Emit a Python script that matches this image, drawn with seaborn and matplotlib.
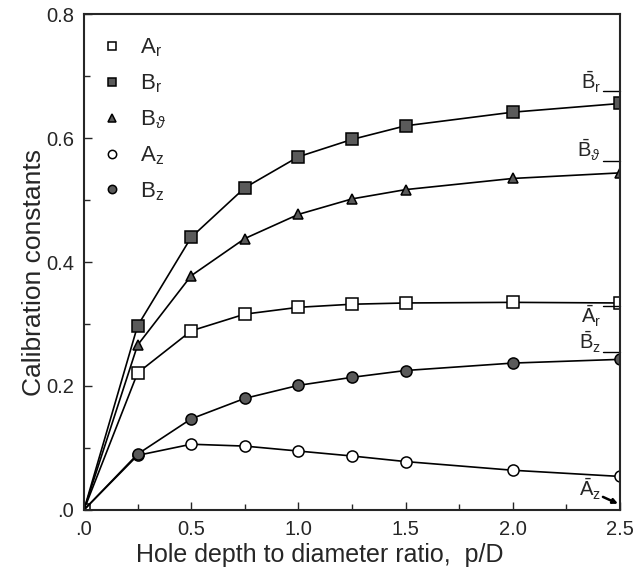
import numpy as np
import seaborn as sns
import matplotlib.pyplot as plt
from matplotlib.lines import Line2D
from matplotlib.ticker import MultipleLocator, FixedLocator, FixedFormatter

# data
depth = [0.0, 0.25, 0.5, 0.75, 1.0, 1.25, 1.5, 2.0, 2.5]
a_r = [0.0, 0.221, 0.289, 0.316, 0.327, 0.332, 0.334, 0.335, 0.334]
b_r = [0.0, 0.297, 0.440, 0.520, 0.570, 0.598, 0.620, 0.642, 0.656]
b_theta = [0.0, 0.266, 0.378, 0.438, 0.477, 0.502, 0.517, 0.535, 0.544]
a_z = [0.0, 0.088, 0.106, 0.103, 0.095, 0.087, 0.078, 0.064, 0.054]
b_z = [0.0, 0.090, 0.147, 0.180, 0.201, 0.214, 0.225, 0.237, 0.243]

# asymptotic values marked on the right edge
asym_names = [r'$\bar{\mathrm{B}}_{\mathrm{r}}$', r'$\bar{\mathrm{B}}_{\vartheta}$',
              r'$\bar{\mathrm{A}}_{\mathrm{r}}$', r'$\bar{\mathrm{B}}_{\mathrm{z}}$']
asym_vals = [0.676, 0.563, 0.329, 0.255]
az_asym = 0.010

sns.set_style("ticks")
plt.rcParams['font.family'] = ['Liberation Sans', 'DejaVu Sans']
plt.rcParams['mathtext.fontset'] = 'custom'
plt.rcParams['mathtext.rm'] = 'Liberation Sans'
plt.rcParams['mathtext.it'] = 'Liberation Sans:italic'

fig = plt.figure(figsize=(6.36, 5.71), dpi=100)
ax = fig.add_axes([0.132, 0.107, 0.843, 0.868])

gray = '#5a5a5a'
series = [
    ('A_r', '$\\mathrm{A}_{\\mathrm{r}}$', a_r, 's', 'white'),
    ('B_r', '$\\mathrm{B}_{\\mathrm{r}}$', b_r, 's', gray),
    ('B_t', '$\\mathrm{B}_{\\vartheta}$', b_theta, '^', gray),
    ('A_z', '$\\mathrm{A}_{\\mathrm{z}}$', a_z, 'o', 'white'),
    ('B_z', '$\\mathrm{B}_{\\mathrm{z}}$', b_z, 'o', gray),
]

handles = []
for key, name, vals, mk, fc in series:
    every = slice(0, None) if key == 'A_r' else slice(1, None)
    sns.lineplot(x=depth, y=vals, ax=ax, color='black', lw=1.2,
                 marker=mk, markersize=8 if mk != '^' else 7.5,
                 markerfacecolor=fc, markeredgecolor='black',
                 markeredgewidth=1.1, markevery=every, legend=False)
    handles.append(Line2D([], [], ls='none', marker=mk, markersize=6,
                          markerfacecolor=fc, markeredgecolor='black',
                          markeredgewidth=1.1, label=name))

ax.legend(handles=handles, loc='upper left', frameon=False, fontsize=16,
          handlelength=1.3, handletextpad=0.6, labelspacing=0.6,
          borderaxespad=0.2, borderpad=0.4, bbox_to_anchor=(0.0, 0.982))

ax.set_xlim(0, 2.5)
ax.set_ylim(0, 0.8)
ax.xaxis.set_major_locator(FixedLocator([0, 0.5, 1.0, 1.5, 2.0, 2.5]))
ax.xaxis.set_major_formatter(FixedFormatter(['.0', '0.5', '1.0', '1.5', '2.0', '2.5']))
ax.xaxis.set_minor_locator(MultipleLocator(0.25))
ax.yaxis.set_major_locator(FixedLocator([0, 0.2, 0.4, 0.6, 0.8]))
ax.yaxis.set_major_formatter(FixedFormatter(['.0', '0.2', '0.4', '0.6', '0.8']))
ax.yaxis.set_minor_locator(MultipleLocator(0.1))
ax.tick_params(which='both', direction='in', labelsize=14.5, width=1.0)
ax.tick_params(which='major', length=6, pad=7)
ax.tick_params(which='minor', length=4)
for s in ax.spines.values():
    s.set_linewidth(1.5)

ax.set_xlabel('Hole depth to diameter ratio,  p/D', fontsize=18)
ax.set_ylabel('Calibration constants', fontsize=19)
ax.xaxis.set_label_coords(0.44, -0.066)
ax.yaxis.set_label_coords(-0.07, 0.48)

# right-edge asymptote markers
label_y = [0.690, 0.580, 0.312, 0.270]
for name, v, ty in zip(asym_names, asym_vals, label_y):
    ax.plot([2.42, 2.5], [v, v], color='black', lw=1.0, clip_on=False)
    ax.text(2.41, ty, name, ha='right', va='center', fontsize=14.5)
ax.annotate('', xy=(2.49, az_asym), xytext=(2.42, 0.021),
            arrowprops=dict(arrowstyle='-|>', color='black', lw=1.8,
                            mutation_scale=7, shrinkA=0, shrinkB=0))
ax.text(2.41, 0.033, r'$\bar{\mathrm{A}}_{\mathrm{z}}$', ha='right',
        va='center', fontsize=14.5)

fig.savefig('out.png', dpi=100)
